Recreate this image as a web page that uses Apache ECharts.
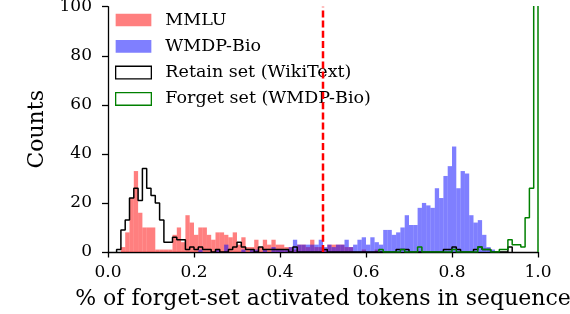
<!DOCTYPE html>
<html><head><meta charset="utf-8">
<script src="https://cdn.jsdelivr.net/npm/echarts@6/dist/echarts.min.js"></script>
<style>html,body{margin:0;padding:0;background:#fff}#c{width:570px;height:314px}</style>
</head><body><div id="c"></div>
<script>
// histogram bins: 100 bins of width 0.01 from 0.0 to 1.0
const binEdgesStart = 0.0;
const binWidth = 0.01;
const xTicks = [0.0, 0.2, 0.4, 0.6, 0.8, 1.0];
const yTicks = [0, 20, 40, 60, 80, 100];

const mmlu = [
  0,0,0,2,8,22,33,16,10,10,
  10,1,1,1,1,7,10,4,15,12,
  7,10,10,7,5,8,8,7,6,8,
  3,6,2,2,5,2,5,3,5,3,
  3,2,2,1,3,3,2,5,2,2,
  1,3,3,3,3,2,2,0,0,1,
  0,0,1,0,0,0,0,0,0,0,
  0,0,0,0,0,0,0,0,0,0,
  0,0,0,0,0,0,0,0,0,0,
  0,0,0,0,0,0,0,0,0,0
];
const wmdpBio = [
  0,0,0,0,0,0,0,0,0,0,
  0,0,0,0,0,0,0,0,0,0,
  0,1,0,0,0,1,0,3,0,0,
  0,1,0,1,1,0,1,0,2,1,
  1,1,2,5,3,3,3,3,3,5,
  2,3,2,3,3,5,2,3,5,6,
  3,6,4,3,9,9,7,8,10,15,
  11,11,18,20,19,18,26,22,31,35,
  43,26,33,32,15,12,13,7,2,1,
  0,0,0,0,0,0,0,0,0,0
];
const retainSet = [
  0,0,1,9,13,22,26,21,34,26,
  23,20,13,4,4,6,5,5,1,2,
  1,2,1,1,0,1,0,0,1,2,
  4,2,1,1,0,2,1,1,1,1,
  1,1,0,2,0,0,0,0,0,0,
  1,0,0,0,0,0,0,0,0,0,
  0,0,0,0,0,0,0,1,1,1,
  0,0,0,0,0,0,0,0,1,1,
  2,1,0,0,0,1,2,1,1,0,
  0,0,0,2,0,0,0,0,0,0
];
const forgetSet = [
  0,0,0,0,0,0,0,0,0,0,
  0,0,0,0,0,0,0,0,0,0,
  0,0,0,0,0,0,0,0,0,0,
  0,0,0,0,0,0,0,0,0,0,
  0,0,0,0,0,0,0,0,0,0,
  0,0,0,0,0,0,0,0,0,0,
  0,0,0,1,0,0,0,0,1,0,
  0,0,2,0,0,0,0,0,0,0,
  1,0,0,0,0,0,2,1,1,0,
  0,1,1,5,3,3,2,14,26,250
];
const threshold = 0.5;

function barData(arr){
  return arr.map((v,i)=>[binEdgesStart+i*binWidth, binEdgesStart+(i+1)*binWidth, v]);
}
function stepData(arr){
  let first = arr.findIndex(v=>v>0);
  let last = arr.length-1; while(last>0 && arr[last]===0) last--;
  const pts = [[binEdgesStart+first*binWidth, 0]];
  for(let i=first;i<=last;i++){
    const x0 = binEdgesStart+i*binWidth, x1 = x0+binWidth;
    pts.push([x0, arr[i]]); pts.push([x1, arr[i]]);
  }
  pts.push([binEdgesStart+(last+1)*binWidth, 0]);
  return pts;
}
function rectRender(color){
  return function(params, api){
    const p0 = api.coord([api.value(0), 0]);
    const p1 = api.coord([api.value(1), api.value(2)]);
    return {type:'rect', shape:{x:p0[0], y:p1[1], width:p1[0]-p0[0], height:p0[1]-p1[1]}, style:{fill:color}};
  };
}
const FONT = 'DejaVu Serif';
const chart = echarts.init(document.getElementById('c'), null, {renderer:'canvas'});
chart.setOption({
  animation:false,
  backgroundColor:'#fff',
  grid:{left:108, right:32, top:6.7, bottom:62, containLabel:false, outerBoundsMode:'none'},
  legend:{
    left:115, top:11, orient:'vertical', padding:0, itemGap:8.3,
    itemWidth:35.7, itemHeight:12.7, selectedMode:false,
    textStyle:{fontFamily:FONT, fontSize:17.5, color:'#000', lineHeight:18, padding:[0,0,0,9]},
    data:[
      {name:'MMLU', icon:'rect', itemStyle:{color:'rgba(255,0,0,0.5)', borderWidth:0}},
      {name:'WMDP-Bio', icon:'rect', itemStyle:{color:'rgba(0,0,255,0.5)', borderWidth:0}},
      {name:'Retain set (WikiText)', icon:'rect', itemStyle:{color:'#fff', borderColor:'#000', borderWidth:1.3}},
      {name:'Forget set (WMDP-Bio)', icon:'rect', itemStyle:{color:'#fff', borderColor:'#008000', borderWidth:1.3}}
    ]
  },
  xAxis:{
    type:'value', min:0, max:1, interval:0.2,
    name:'% of forget-set activated tokens in sequence', nameLocation:'middle', nameGap:36,
    nameTextStyle:{fontFamily:FONT, fontSize:22, color:'#000'},
    axisLine:{lineStyle:{color:'#000', width:1.3}},
    axisTick:{length:5.5, lineStyle:{color:'#000', width:1.3}},
    axisLabel:{fontFamily:FONT, fontSize:17, color:'#000', margin:12, formatter:v=>v.toFixed(1)},
    splitLine:{show:false}
  },
  yAxis:{
    type:'value', min:0, max:100, interval:20,
    name:'Counts', nameLocation:'middle', nameGap:58,
    nameTextStyle:{fontFamily:FONT, fontSize:22, color:'#000'},
    axisLine:{show:true, lineStyle:{color:'#000', width:1.3}},
    axisTick:{show:true, length:6, lineStyle:{color:'#000', width:1.3}},
    axisLabel:{fontFamily:FONT, fontSize:17, color:'#000', margin:16},
    splitLine:{show:false}
  },
  series:[
    {name:'MMLU', type:'custom', renderItem:rectRender('rgba(255,0,0,0.5)'), encode:{x:[0,1], y:2}, data:barData(mmlu), z:1, itemStyle:{color:'rgba(255,0,0,0.5)'}},
    {name:'WMDP-Bio', type:'custom', renderItem:rectRender('rgba(0,0,255,0.5)'), encode:{x:[0,1], y:2}, data:barData(wmdpBio), z:2, itemStyle:{color:'rgba(0,0,255,0.5)'}},
    {name:'Retain set (WikiText)', type:'line', data:stepData(retainSet), symbol:'none', clip:true, z:3, lineStyle:{color:'#000', width:1.5}, itemStyle:{color:'#000'}},
    {name:'Forget set (WMDP-Bio)', type:'line', data:stepData(forgetSet), symbol:'none', clip:true, z:4, lineStyle:{color:'#008000', width:1.5}, itemStyle:{color:'#008000'}},
    {name:'threshold', type:'line', data:[[threshold,0],[threshold,100]], symbol:'none', z:5, lineStyle:{color:'#ff0000', width:2.5, type:[7,3.2]}}
  ]
});
</script></body></html>
